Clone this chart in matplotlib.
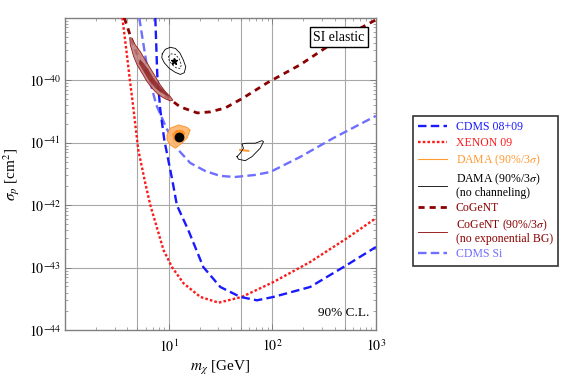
import math
import matplotlib
matplotlib.use('Agg')
import matplotlib.pyplot as plt
from matplotlib.lines import Line2D
from matplotlib.ticker import LogLocator, NullFormatter, FixedLocator

plt.rcParams['font.family'] = ['Liberation Serif', 'DejaVu Serif']
plt.rcParams['mathtext.fontset'] = 'stix'

# limit curves: mass [GeV], cross section [cm^2]
cdms_m = [7.43, 7.76, 8.30, 9.07, 9.91, 10.83, 12.0, 15.45, 21.6, 31.5, 49.1, 71.1, 102.8, 231.7, 523.6, 1000]
cdms_s = [1e-39, 1.22e-40, 3.36e-41, 1.11e-41, 5.3e-42, 2.54e-42, 1e-42, 4e-43, 1.02e-43, 4.9e-44,
          3.4e-44, 3.0e-44, 3.4e-44, 4.9e-44, 1.1e-43, 2.14e-43]

xenon_m = [3.57, 3.90, 4.22, 4.56, 5.09, 5.95, 6.65, 8.93, 10.76, 13.93, 20.2, 30.3, 50.9, 102.8, 231.7, 523.6, 1000]
xenon_s = [1e-39, 3.07e-40, 1.01e-40, 3.61e-41, 7.67e-42, 2.24e-42, 1e-42, 1.9e-43, 1.02e-43, 5.6e-44,
           3.4e-44, 2.75e-44, 3.4e-44, 5.9e-44, 1.23e-43, 2.95e-43, 6.2e-43]

cdmssi_m = [5.20, 6.36, 7.59, 9.48, 12.38, 16.15, 22.5, 31.5, 43.9, 68.4, 95.5, 185.7, 386, 1000]
cdmssi_s = [1e-39, 1.22e-40, 4.04e-41, 1.73e-41, 7.67e-42, 4.74e-42, 3.53e-42, 2.94e-42, 2.83e-42,
            3.05e-42, 3.40e-42, 5.92e-42, 1.18e-41, 2.69e-41]

cogent_m = [3.73, 3.99, 4.56, 5.32, 6.36, 7.76, 9.27, 10.8, 12.9, 18.9, 25.2, 35.2, 52.4, 89.3, 185.7, 386, 1000]
cogent_s = [1e-39, 7.18e-40, 3.69e-40, 1.97e-40, 1.18e-40, 7.55e-41, 5.62e-41, 4.68e-41, 3.75e-41, 3.0e-41,
            3.12e-41, 3.61e-41, 5.22e-41, 9.1e-41, 1.77e-40, 3.97e-40, 9.3e-40]

# CoGeNT allowed region (90% / 3 sigma)
cog90_m = [4.20, 4.26, 4.59, 4.95, 5.53, 6.18, 6.90, 7.99, 9.27, 10.36, 11.0,
           10.36, 9.27, 8.30, 7.43, 6.65, 5.94, 5.32, 4.76, 4.43]
cog90_s = [4.83e-40, 3.69e-40, 2.40e-40, 1.77e-40, 1.30e-40, 9.53e-41, 7.47e-41, 5.83e-41, 5.04e-41, 4.68e-41, 4.80e-41,
           5.48e-41, 6.59e-41, 8.43e-41, 1.15e-40, 1.56e-40, 2.12e-40, 2.88e-40, 3.69e-40, 4.73e-40]
cog3s_m = [5.13, 5.73, 6.40, 7.43, 8.93, 10.36, 9.63, 8.30, 7.15, 6.40, 5.73, 5.32]
cog3s_s = [1.88e-40, 1.38e-40, 1.01e-40, 7.47e-41, 5.98e-41, 5.28e-41, 6.21e-41, 7.92e-41, 1.08e-40, 1.47e-40,
           1.88e-40, 2.12e-40]

# DAMA allowed region with channeling
dama90_m = [9.63, 10.36, 12.45, 15.0, 16.15, 15.0, 13.44, 11.58, 10.36, 9.63]
dama90_s = [1.33e-41, 1.71e-41, 1.93e-41, 1.77e-41, 1.60e-41, 1.18e-41, 9.82e-42, 8.17e-42, 9.22e-42, 1.11e-41]
dama3s_m = [10.84, 11.83, 13.53, 14.46, 13.83, 12.38, 11.07]
dama3s_s = [1.38e-41, 1.60e-41, 1.60e-41, 1.44e-41, 1.15e-41, 9.93e-42, 1.11e-41]
dama_best = (12.45, 1.25e-41)
dama_hi_m = [49.0, 58.6]
dama_hi_s = [7.67e-42, 7.4e-42]

# DAMA without channeling
damanc_a_m = [8.67, 9.27, 10.36, 11.58, 12.80, 13.83, 14.62, 14.13, 12.94, 11.58, 10.14, 9.08, 8.58, 8.67]
damanc_a_s = [2.65e-40, 3.13e-40, 3.37e-40, 3.24e-40, 2.75e-40, 2.12e-40, 1.64e-40, 1.32e-40, 1.24e-40,
              1.34e-40, 1.55e-40, 1.90e-40, 2.29e-40, 2.65e-40]
damanc_a3_m = [9.91, 10.6, 11.58, 12.65, 13.24, 12.94, 11.83, 10.84, 10.14, 9.91]
damanc_a3_s = [2.37e-40, 2.65e-40, 2.60e-40, 2.20e-40, 1.77e-40, 1.55e-40, 1.58e-40, 1.77e-40, 2.05e-40, 2.37e-40]
damanc_best = (11.15, 2.0e-40)
damanc_b_m = [45.6, 49.0, 52.7, 50.9, 56.9, 68.4, 79.4, 82.3, 76.4, 63.6, 54.8, 47.2, 45.6]
damanc_b_s = [5.98e-42, 6.79e-42, 8.17e-42, 9.57e-42, 9.82e-42, 9.82e-42, 1.08e-41, 1.04e-41, 8.17e-42,
              5.98e-42, 5.16e-42, 5.44e-42, 5.98e-42]

blue = '#1a1aff'
red = '#ff1a1a'
orange = '#ff9a33'
darkred = '#8b0000'
lightblue = '#6f6fff'

fig = plt.figure(figsize=(5.81, 3.79), dpi=100)
ax = fig.add_axes([0.112, 0.129, 0.535, 0.824])
ax.set_xscale('log')
ax.set_yscale('log')
ax.set_xlim(1, 1000)
ax.set_ylim(1e-44, 1e-39)

# grid
for xv in [5, 10, 50, 100, 500]:
    ax.axvline(xv, color='#a8a8a8', lw=0.8, zorder=0)
for yv in [1e-43, 1e-42, 1e-41, 1e-40]:
    ax.axhline(yv, color='#a8a8a8', lw=0.8, zorder=0)

# limits
ax.plot(xenon_m, xenon_s, color=red, lw=1.7, dashes=(1.1, 0.9), zorder=3)
ax.plot(cdmssi_m, cdmssi_s, color=lightblue, lw=1.7, dashes=(3.6, 1.8), zorder=3)
ax.plot(cdms_m, cdms_s, color=blue, lw=1.7, dashes=(3.6, 1.8), zorder=3)
ax.plot(cogent_m, cogent_s, color=darkred, lw=2.0, dashes=(2.2, 1.8), zorder=3)

# regions
ax.fill(cog90_m, cog90_s, facecolor='#bd7a78', edgecolor=darkred, lw=0.6, alpha=0.85, zorder=4)
ax.fill(cog3s_m, cog3s_s, facecolor='#8c1c1c', edgecolor='none', alpha=0.75, zorder=4)
ax.fill(dama90_m, dama90_s, facecolor='#ffb870', edgecolor='#ff8c1a', lw=0.6, alpha=0.95, zorder=4)
ax.fill(dama3s_m, dama3s_s, facecolor='#ff9024', edgecolor='none', zorder=4)
ax.plot(*dama_best, 'o', color='black', ms=6, zorder=5)
ax.plot(dama_hi_m, dama_hi_s, color=orange, lw=1.5, zorder=4)
ax.plot(damanc_a_m, damanc_a_s, color='black', lw=0.6, zorder=4)
ax.plot(damanc_a3_m, damanc_a3_s, color='black', lw=0.5, ls=(0, (3, 2)), zorder=4)
ax.plot(*damanc_best, marker='*', color='black', ms=5, zorder=5)
ax.plot(damanc_b_m, damanc_b_s, color='black', lw=0.6, zorder=4)


def pow10(v, pos):
    return r'$10^{%d}$' % round(math.log10(v))


# ticks
ax.xaxis.set_major_locator(FixedLocator([10, 100, 1000]))
ax.xaxis.set_major_formatter(plt.FuncFormatter(pow10))
ax.xaxis.set_minor_locator(LogLocator(base=10, subs=range(1, 10), numticks=20))
ax.xaxis.set_minor_formatter(NullFormatter())
ax.yaxis.set_major_locator(FixedLocator([1e-44, 1e-43, 1e-42, 1e-41, 1e-40]))
ax.yaxis.set_major_formatter(plt.FuncFormatter(pow10))
ax.yaxis.set_minor_locator(LogLocator(base=10, subs=range(1, 10), numticks=20))
ax.yaxis.set_minor_formatter(NullFormatter())
ax.tick_params(which='both', direction='in', top=True, right=True, colors='#808080', labelcolor='black')
ax.tick_params(which='major', length=4, width=0.7, labelsize=10, pad=3)
ax.tick_params(axis='x', which='major', pad=6)
ax.tick_params(which='minor', length=2, width=0.5)
for sp in ax.spines.values():
    sp.set_color('#808080')
    sp.set_linewidth(1.0)

ax.set_xlabel(r'$m_\chi$ [GeV]', fontsize=11, labelpad=3)
ax.set_ylabel(r'$\sigma_p$ [cm$^2$]', fontsize=11, labelpad=5)

ax.text(0.881, 0.9375, 'SI elastic', transform=ax.transAxes, fontsize=10, ha='center', va='center',
        bbox=dict(boxstyle='square,pad=0.25', facecolor='white', edgecolor='black', lw=1.0), zorder=6)
ax.text(0.98, 0.035, '90% C.L.', transform=ax.transAxes, fontsize=9.5, ha='right', va='bottom', zorder=6)

handles = [
    Line2D([], [], color=blue, lw=1.7, dashes=(3.6, 1.8)),
    Line2D([], [], color=red, lw=1.7, dashes=(1.1, 0.9)),
    Line2D([], [], color=orange, lw=0.8),
    Line2D([], [], color='black', lw=0.6),
    Line2D([], [], color=darkred, lw=2.0, dashes=(2.2, 1.8)),
    Line2D([], [], color=darkred, lw=0.6),
    Line2D([], [], color=lightblue, lw=1.7, dashes=(3.6, 1.8)),
]
labels = ['CDMS 08+09', 'XENON 09', r'DAMA (90%/3$\sigma$)',
          'DAMA (90%/3$\\sigma$)\n(no channeling)', 'CoGeNT',
          'CoGeNT (90%/3$\\sigma$)\n(no exponential BG)', 'CDMS Si']
text_colors = [blue, red, orange, 'black', darkred, darkred, lightblue]

leg = fig.legend(handles, labels, loc='upper left', bbox_to_anchor=(0.710, 0.694),
                 bbox_transform=fig.transFigure, borderaxespad=0, fontsize=8.5, handlelength=2.5,
                 handletextpad=0.7, labelspacing=0.32, borderpad=0.45, fancybox=False,
                 frameon=True, edgecolor='black', shadow=False)
leg.get_frame().set_linewidth(1.2)
for t, c in zip(leg.get_texts(), text_colors):
    t.set_color(c)
    t.set_linespacing(0.9)

fig.savefig('out.png', dpi=100)
